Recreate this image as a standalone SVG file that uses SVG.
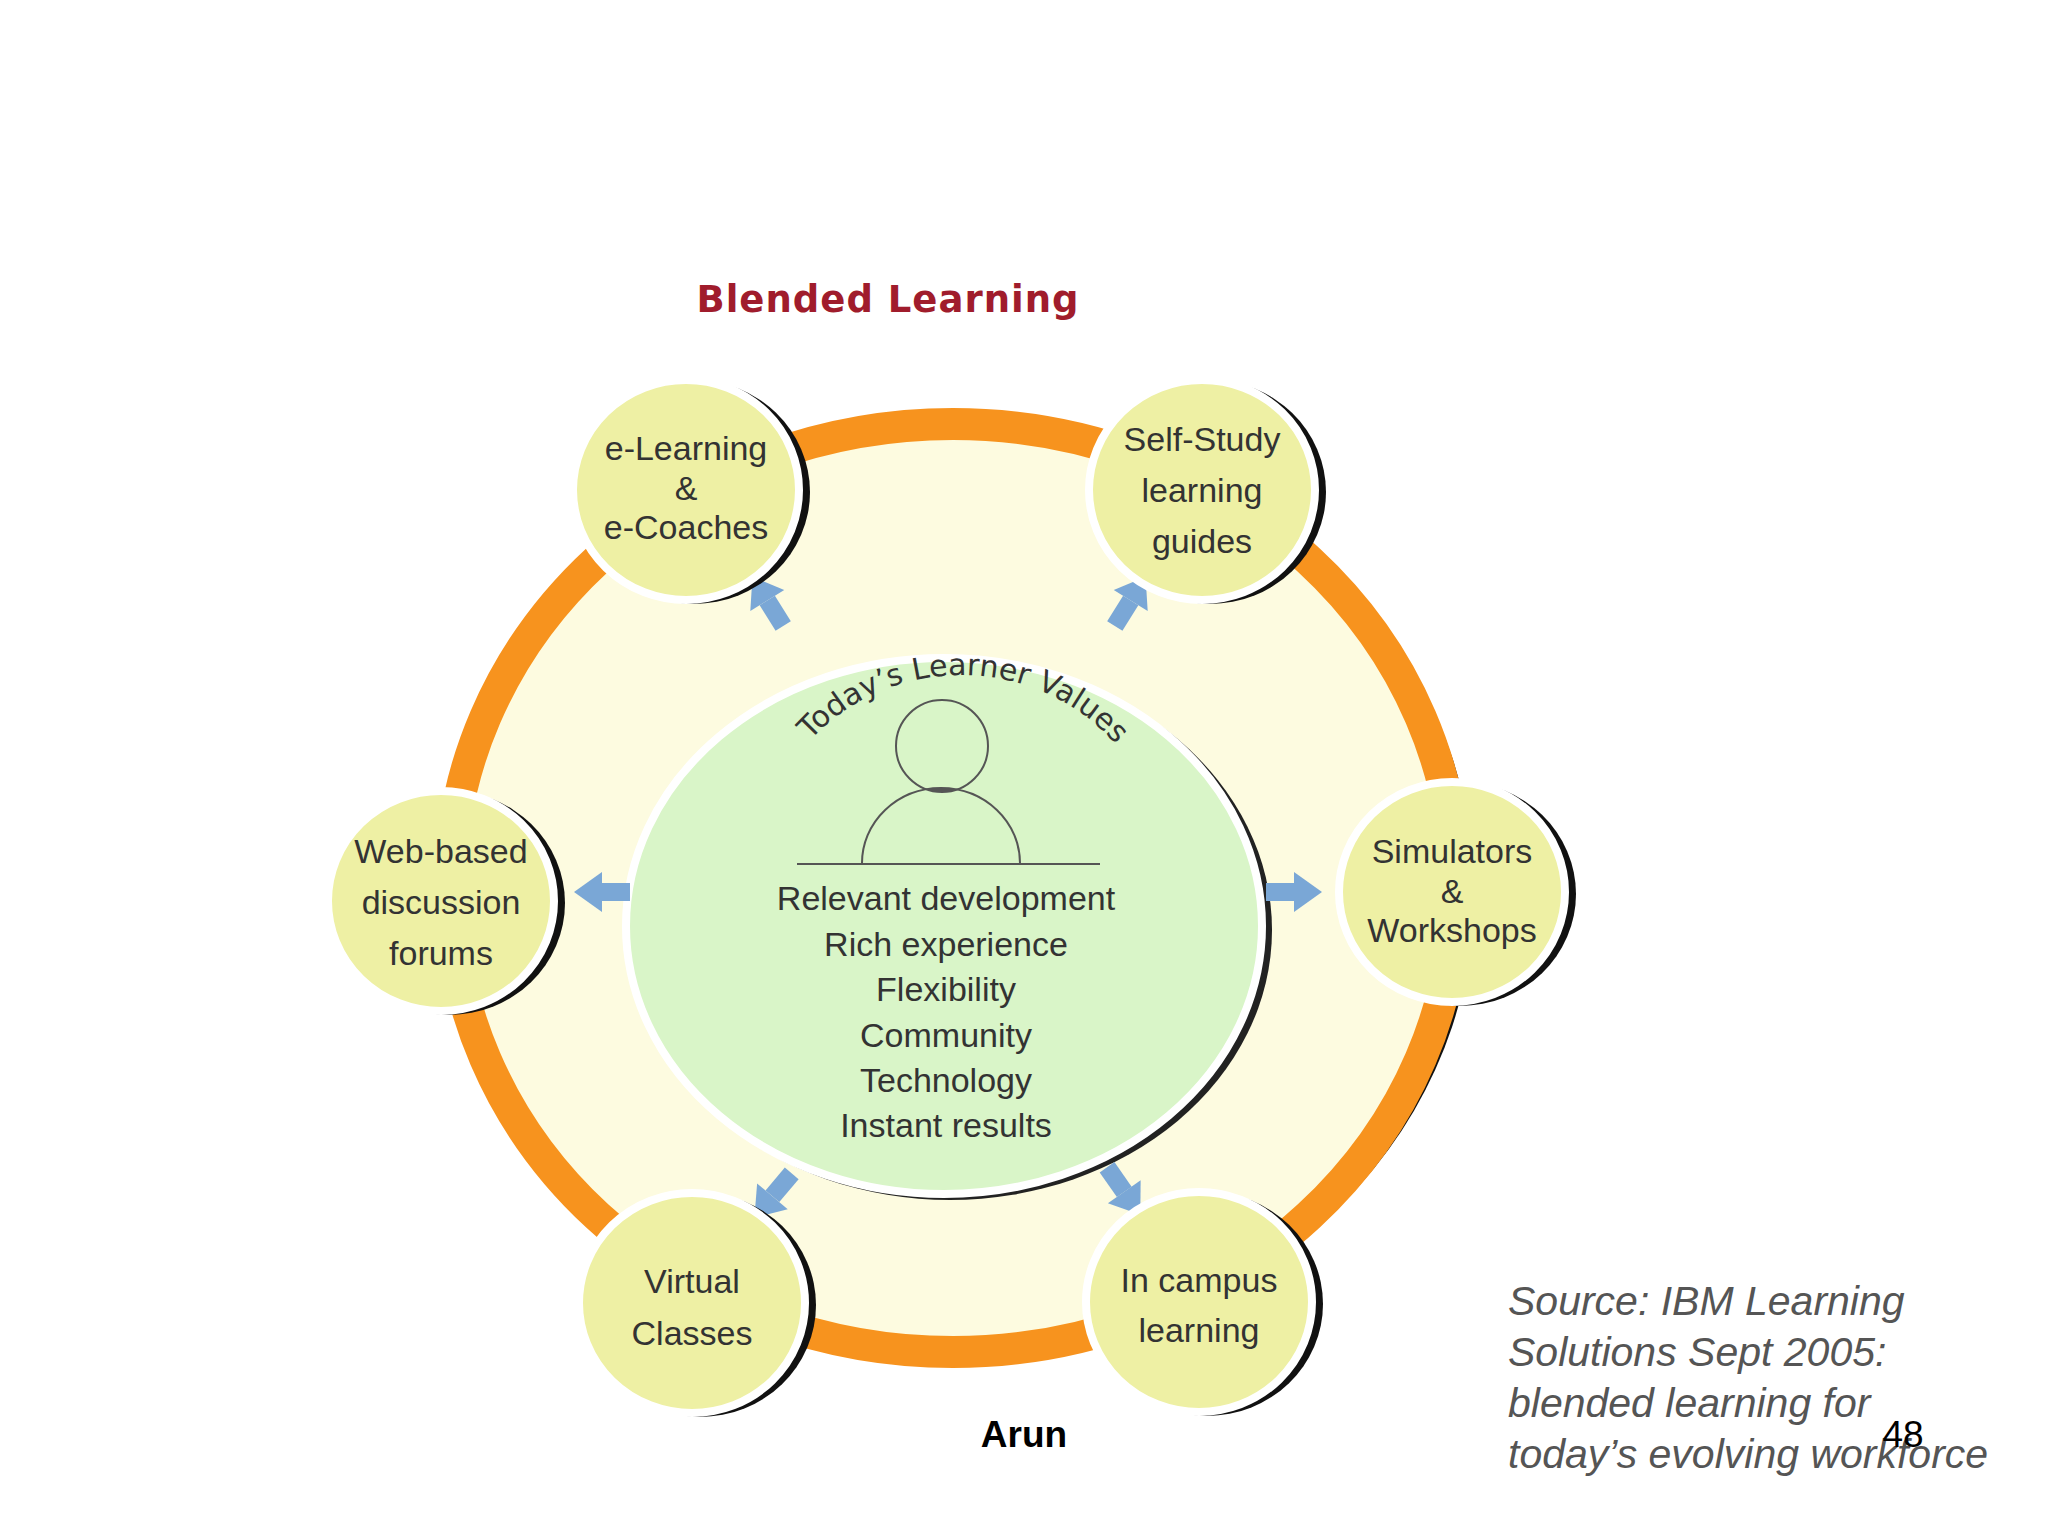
<svg xmlns="http://www.w3.org/2000/svg" width="2048" height="1536" viewBox="0 0 2048 1536">
<defs>
<style>
.t{font-family:"Liberation Sans",Arial,sans-serif;font-size:34px;fill:#333;text-anchor:middle}
.src{font-family:"Liberation Sans",Arial,sans-serif;font-size:41px;font-style:italic;fill:#555}
.node ellipse.s{fill:#111}
.node ellipse.f{fill:#eef0a4;stroke:#fff;stroke-width:8}
.arr{fill:#7aa7d6}
</style>
<path id="arcp" d="M 785 775 A 200 190 0 0 1 1140 780"/>
</defs>
<rect width="2048" height="1536" fill="#fff"/>
<text x="888" y="312" font-family="'DejaVu Sans',sans-serif" font-weight="bold" font-size="37" fill="#a01c2c" text-anchor="middle" letter-spacing="1">Blended Learning</text>
<g id="ring">
<ellipse cx="966" cy="892" rx="508" ry="464" fill="#111"/>
<ellipse cx="953" cy="888" rx="503" ry="464" fill="#fdfbe0" stroke="#f7931e" stroke-width="32"/>
</g>
<g id="center">
<ellipse cx="950" cy="930" rx="322" ry="270" fill="#222"/>
<ellipse cx="944" cy="926" rx="318" ry="268" fill="#d9f5c8" stroke="#fff" stroke-width="8"/>
<text font-family="'DejaVu Sans',sans-serif" font-size="30" fill="#333"><textPath href="#arcp" startOffset="50%" text-anchor="middle">Today’s Learner Values</textPath></text>
<circle cx="942" cy="746" r="46" fill="none" stroke="#555" stroke-width="2"/>
<path d="M 928 790 h28 M 862 863 A 79 75 0 0 1 1020 863" fill="none" stroke="#555" stroke-width="2"/>
<line x1="797" y1="864" x2="1100" y2="864" stroke="#555" stroke-width="2"/>
<text class="t" x="946" y="910">Relevant development</text>
<text class="t" x="946" y="956">Rich experience</text>
<text class="t" x="946" y="1001">Flexibility</text>
<text class="t" x="946" y="1047">Community</text>
<text class="t" x="946" y="1092">Technology</text>
<text class="t" x="946" y="1137">Instant results</text>
</g>
<g id="connectors">
<g class="arr" transform="translate(592,892)"><rect x="10" y="-9" width="28" height="18"/><polygon points="10,-20 10,20 -18,0"/></g>
<g class="arr" transform="translate(1304,892) rotate(180)"><rect x="10" y="-9" width="28" height="18"/><polygon points="10,-20 10,20 -18,0"/></g>
<g class="arr" transform="translate(762,592) rotate(58)"><rect x="10" y="-9" width="30" height="18"/><polygon points="10,-20 10,20 -18,0"/></g>
<g class="arr" transform="translate(1136,592) rotate(122)"><rect x="10" y="-9" width="30" height="18"/><polygon points="10,-20 10,20 -18,0"/></g>
<g class="arr" transform="translate(766,1204) rotate(-50)"><rect x="10" y="-9" width="30" height="18"/><polygon points="10,-20 10,20 -18,0"/></g>
<g class="arr" transform="translate(1130,1200) rotate(-125)"><rect x="10" y="-9" width="30" height="18"/><polygon points="10,-20 10,20 -18,0"/></g>
</g>
<g id="n1" class="node"><ellipse class="s" cx="694" cy="492" rx="116" ry="112"/><ellipse class="f" cx="686" cy="490" rx="113" ry="110"/>
<text class="t" x="686" y="460">e-Learning</text><text class="t" x="686" y="500">&amp;</text><text class="t" x="686" y="539">e-Coaches</text></g>
<g id="n2" class="node"><ellipse class="s" cx="1210" cy="492" rx="116" ry="112"/><ellipse class="f" cx="1202" cy="490" rx="113" ry="110"/>
<text class="t" x="1202" y="451">Self-Study</text><text class="t" x="1202" y="502">learning</text><text class="t" x="1202" y="553">guides</text></g>
<g id="n3" class="node"><ellipse class="s" cx="449" cy="903" rx="116" ry="112"/><ellipse class="f" cx="441" cy="901" rx="113" ry="110"/>
<text class="t" x="441" y="863">Web-based</text><text class="t" x="441" y="914">discussion</text><text class="t" x="441" y="965">forums</text></g>
<g id="n4" class="node"><ellipse class="s" cx="1460" cy="894" rx="116" ry="112"/><ellipse class="f" cx="1452" cy="892" rx="113" ry="110"/>
<text class="t" x="1452" y="863">Simulators</text><text class="t" x="1452" y="903">&amp;</text><text class="t" x="1452" y="942">Workshops</text></g>
<g id="n5" class="node"><ellipse class="s" cx="700" cy="1305" rx="116" ry="112"/><ellipse class="f" cx="692" cy="1303" rx="113" ry="110"/>
<text class="t" x="692" y="1293">Virtual</text><text class="t" x="692" y="1345">Classes</text></g>
<g id="n6" class="node"><ellipse class="s" cx="1207" cy="1304" rx="116" ry="112"/><ellipse class="f" cx="1199" cy="1302" rx="113" ry="110"/>
<text class="t" x="1199" y="1292">In campus</text><text class="t" x="1199" y="1342">learning</text></g>
<text class="src" x="1508" y="1315">Source: IBM Learning</text>
<text class="src" x="1508" y="1366">Solutions Sept 2005:</text>
<text class="src" x="1508" y="1417">blended learning for</text>
<text class="src" x="1508" y="1468">today’s evolving workforce</text>
<text x="1024" y="1447" font-family="'Liberation Sans',Arial,sans-serif" font-weight="bold" font-size="37" text-anchor="middle">Arun</text>
<text x="1903" y="1447" font-family="'Liberation Sans',Arial,sans-serif" font-size="37" text-anchor="middle">48</text>
</svg>
